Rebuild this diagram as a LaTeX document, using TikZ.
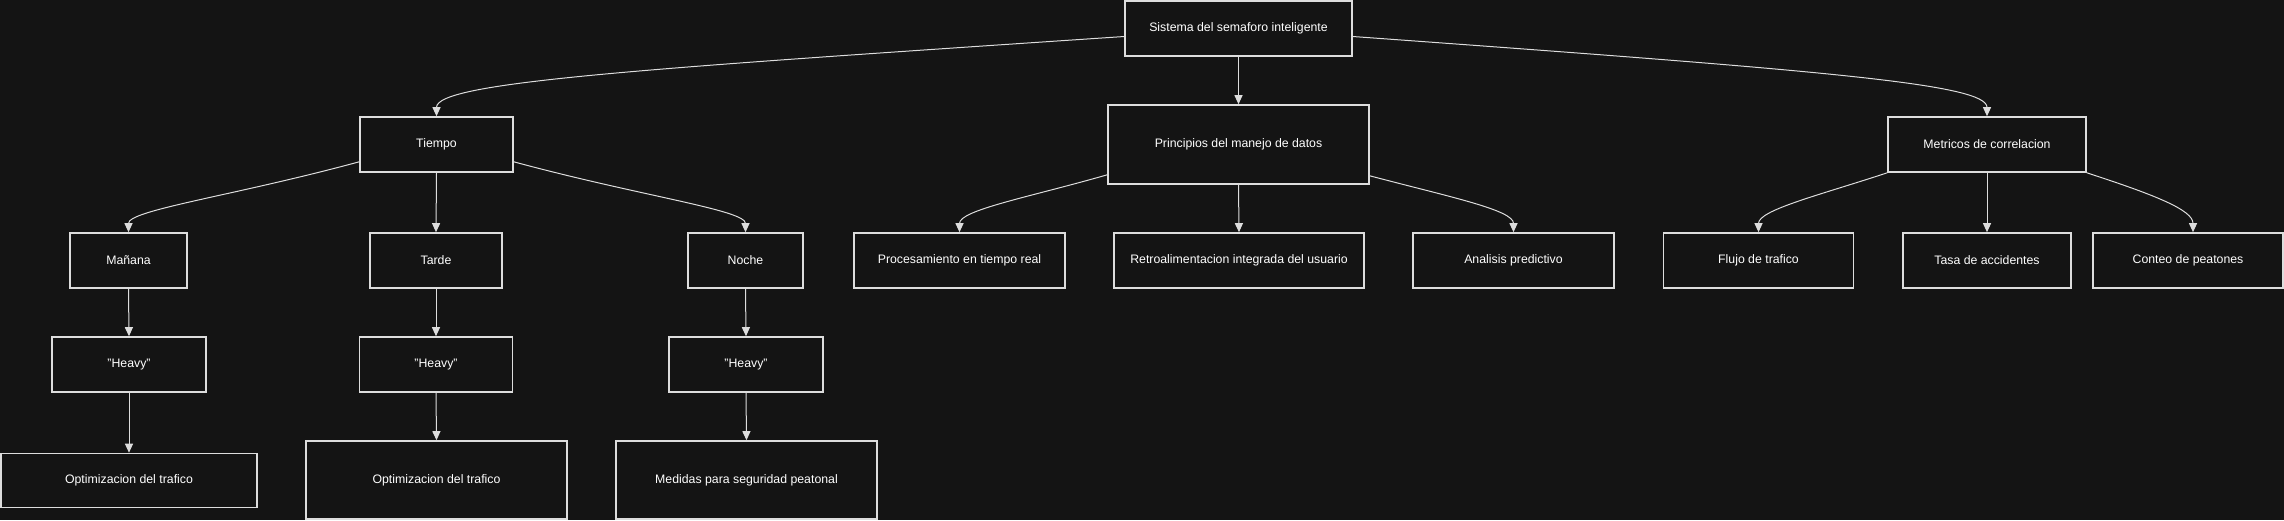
\documentclass[tikz,border=0pt]{standalone}
\usepackage{fontspec}
\setmainfont{Liberation Sans}
\usetikzlibrary{arrows.meta}
\definecolor{bg}{HTML}{141414}
\definecolor{edgec}{HTML}{DDDDDD}
\begin{document}
\begin{tikzpicture}[x=1pt,y=-1pt,
  box/.style={draw=edgec, line width=1.6pt, fill=bg, text=white,
    font=\fontsize{12.3}{14}\selectfont, inner sep=0pt, anchor=center,
    minimum height=55pt},
  arr/.style={draw=edgec, line width=1pt, -{Triangle[length=9pt,width=8pt]}}]
\fill[bg] (0,0) rectangle (2284,520);
\useasboundingbox (0,0) rectangle (2284,520);

% level 0
\node[box, minimum width=227pt] (sys) at (1238.5,28.5) {Sistema del semaforo inteligente};
% level 1
\node[box, minimum width=153pt] (tiempo) at (436.5,144.5) {Tiempo};
\node[box, minimum width=261pt, minimum height=79pt] (princ) at (1238.5,144.5) {Principios del manejo de datos};
\node[box, minimum width=198pt] (metr) at (1987,144.5) {Metricos de correlacion};
% level 2
\node[box, minimum width=117pt] (man) at (128.5,260.5) {Mañana};
\node[box, minimum width=132pt] (tar) at (436,260.5) {Tarde};
\node[box, minimum width=115pt] (noc) at (745.5,260.5) {Noche};
\node[box, minimum width=211pt] (proc) at (959.5,260.5) {Procesamiento en tiempo real};
\node[box, minimum width=250pt] (retro) at (1239,260.5) {Retroalimentacion integrada del usuario};
\node[box, minimum width=201pt] (anal) at (1513.5,260.5) {Analisis predictivo};
\node[box, minimum width=190pt] (flujo) at (1758.5,260.5) {Flujo de trafico};
\node[box, minimum width=168pt] (tasa) at (1987,260.5) {Tasa de accidentes};
\node[box, minimum width=190pt] (conteo) at (2188,260.5) {Conteo de peatones};
% level 3
\node[box, minimum width=154pt] (h1) at (129,364.5) {"Heavy"};
\node[box, minimum width=153pt] (h2) at (436,364.5) {"Heavy"};
\node[box, minimum width=154pt] (h3) at (746,364.5) {"Heavy"};
% level 4
\node[box, minimum width=256pt, minimum height=54pt] (o1) at (129,480.5) {Optimizacion del trafico};
\node[box, minimum width=261pt, minimum height=78pt] (o2) at (436.5,480) {Optimizacion del trafico};
\node[box, minimum width=261pt, minimum height=78pt] (med) at (746.5,480) {Medidas para seguridad peatonal};

% edges from root
\draw[arr] ([yshift=-8pt]sys.west) .. controls (640,69) and (436.5,82) .. (tiempo.north);
\draw[arr] (sys.south) -- (princ.north);
\draw[arr] ([yshift=-8pt]sys.east) .. controls (1830,71) and (1987,84) .. (metr.north);
% Tiempo
\draw[arr] ([yshift=11pt]tiempo.south west) .. controls (233,196) and (128.5,210) .. (man.north);
\draw[arr] (tiempo.south) -- (tar.north);
\draw[arr] ([yshift=11pt]tiempo.south east) .. controls (640,196) and (745.5,210) .. (noc.north);
% Principios
\draw[arr] ([yshift=10pt]princ.south west) .. controls (1030,197) and (959.5,210) .. (proc.north);
\draw[arr] (princ.south) -- (retro.north);
\draw[arr] ([yshift=9pt]princ.south east) .. controls (1450,197) and (1513.5,210) .. (anal.north);
% Metricos
\draw[arr] (metr.south west) .. controls (1820,195) and (1758.5,210) .. (flujo.north);
\draw[arr] (metr.south) -- (tasa.north);
\draw[arr] (metr.south east) .. controls (2155,195) and (2193,210) .. ([xshift=5pt]conteo.north);
% chains
\draw[arr] (man.south) -- (h1.north);
\draw[arr] (tar.south) -- (h2.north);
\draw[arr] (noc.south) -- (h3.north);
\draw[arr] (h1.south) -- (o1.north);
\draw[arr] (h2.south) -- (o2.north);
\draw[arr] (h3.south) -- (med.north);
\end{tikzpicture}
\end{document}
